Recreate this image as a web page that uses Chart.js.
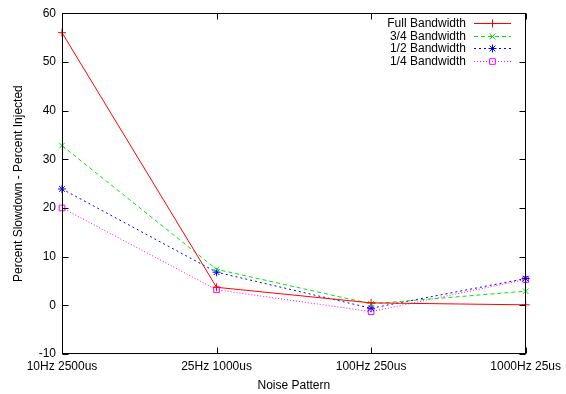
<!DOCTYPE html>
<html>
<head>
<meta charset="utf-8">
<script src="https://cdn.jsdelivr.net/npm/chart.js@4/dist/chart.umd.min.js"></script>
<style>
  html, body { margin: 0; padding: 0; background: #fff; }
</style>
</head>
<body>
<canvas id="slowdown" width="566" height="394"></canvas>
<script>
// noise patterns on the x axis
const patterns = ['10Hz 2500us', '25Hz 1000us', '100Hz 250us', '1000Hz 25us'];

// slowdown minus injected noise, in percent
const fullBandwidth = [56.0, 3.7, 0.5, 0.1];
const threeQuarterBandwidth = [32.8, 7.4, 0.3, 2.9];
const halfBandwidth = [23.9, 6.8, -0.6, 5.5];
const quarterBandwidth = [20.0, 3.2, -1.3, 5.3];

const yMin = -10, yMax = 60, yStep = 10;

const FONT = { family: '"Liberation Sans", Arial, Helvetica, sans-serif', size: 12 };

function series(label, data, color, dash, style) {
  return {
    label: label,
    data: data,
    borderColor: color,
    borderWidth: 1,
    borderDash: dash,
    pointStyle: style,
    pointRadius: 4,
    pointBorderWidth: 1,
    pointBorderColor: color,
    pointBackgroundColor: 'rgba(0,0,0,0)',
    tension: 0,
    fill: false,
    clip: false
  };
}

// gnuplot-like frame: box border with ticks pointing inward on every side
const framePlugin = {
  id: 'frame',
  afterDraw(chart) {
    const ctx = chart.ctx;
    const a = chart.chartArea;
    const L = Math.round(a.left) + 0.5, R = Math.round(a.right) - 0.5;
    const T = Math.round(a.top) + 0.5, B = Math.round(a.bottom) - 0.5;
    ctx.save();
    ctx.strokeStyle = '#000';
    ctx.lineWidth = 1;
    ctx.setLineDash([]);
    ctx.beginPath();
    chart.scales.y.ticks.forEach(t => {
      const y = Math.round(chart.scales.y.getPixelForValue(t.value)) + 0.5;
      ctx.moveTo(L, y); ctx.lineTo(L + 6, y);
      ctx.moveTo(R, y); ctx.lineTo(R - 6, y);
    });
    chart.scales.x.ticks.forEach((t, i) => {
      const x = Math.round(chart.scales.x.getPixelForTick(i)) + 0.5;
      ctx.moveTo(x, B); ctx.lineTo(x, B - 6);
      ctx.moveTo(x, T); ctx.lineTo(x, T + 6);
    });
    ctx.stroke();
    ctx.strokeRect(L, T, R - L, B - T);
    ctx.restore();
  }
};

// key in the top right corner: text, then line sample with marker
const keyPlugin = {
  id: 'key',
  afterDraw(chart) {
    const ctx = chart.ctx;
    const textRight = 466, lineL = 474, lineR = 511, rowTop = 23, rowGap = 12.6;
    ctx.save();
    ctx.font = FONT.size + 'px ' + FONT.family;
    ctx.textAlign = 'right';
    ctx.textBaseline = 'middle';
    chart.data.datasets.forEach((ds, i) => {
      const y = Math.round(rowTop + i * rowGap) + 0.5;
      ctx.fillStyle = '#000';
      ctx.fillText(ds.label, textRight, y);
      ctx.strokeStyle = ds.borderColor;
      ctx.lineWidth = 1;
      ctx.setLineDash(ds.borderDash);
      ctx.beginPath();
      ctx.moveTo(lineL, y);
      ctx.lineTo(lineR, y);
      ctx.stroke();
      ctx.setLineDash([]);
      ctx.fillStyle = 'rgba(0,0,0,0)';
      Chart.helpers.drawPoint(ctx, {
        pointStyle: ds.pointStyle, radius: ds.pointRadius, rotation: 0, borderWidth: 1
      }, (lineL + lineR) / 2, y);
    });
    ctx.restore();
  }
};

new Chart(document.getElementById('slowdown'), {
  type: 'line',
  data: {
    labels: patterns,
    datasets: [
      series('Full Bandwidth', fullBandwidth, '#ff0000', [], 'cross'),
      series('3/4 Bandwidth', threeQuarterBandwidth, '#00e600', [4, 3], 'crossRot'),
      series('1/2 Bandwidth', halfBandwidth, '#0000ff', [2, 3], 'star'),
      series('1/4 Bandwidth', quarterBandwidth, '#ff00ff', [1, 2], 'rect')
    ]
  },
  options: {
    responsive: false,
    animation: false,
    layout: { padding: { top: 12, right: 39, left: 0, bottom: 0 } },
    plugins: { legend: { display: false }, tooltip: { enabled: false } },
    scales: {
      x: {
        type: 'category',
        offset: false,
        grid: { display: false, drawTicks: false },
        border: { display: false },
        ticks: { color: '#000', font: FONT, padding: 5, maxRotation: 0, autoSkip: false },
        title: { display: true, text: 'Noise Pattern', color: '#000', font: FONT, padding: { top: 0, bottom: 1 } },
        afterFit(scale) { scale.height = 40; }
      },
      y: {
        min: yMin,
        max: yMax,
        grid: { display: false, drawTicks: false },
        border: { display: false },
        ticks: { stepSize: yStep, color: '#000', font: FONT, padding: 6 },
        title: { display: true, text: 'Percent Slowdown - Percent Injected', color: '#000', font: FONT, padding: { top: 11, bottom: 0 } },
        afterFit(scale) { scale.width = 62; }
      }
    }
  },
  plugins: [framePlugin, keyPlugin]
});
</script>
</body>
</html>
